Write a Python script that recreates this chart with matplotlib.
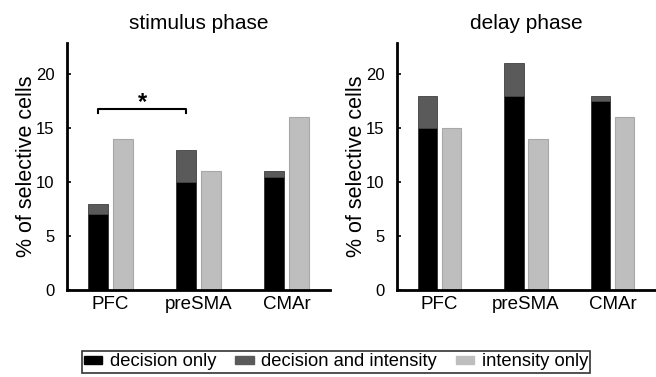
import numpy as np
import matplotlib.pyplot as plt
from matplotlib.patches import Patch

plt.rcParams['font.family'] = ['Liberation Sans', 'DejaVu Sans']

# Percent of selective cells per area, split by selectivity type
areas = ['PFC', 'preSMA', 'CMAr']
stim_decision_only = [7, 10, 10.5]
stim_decision_and_intensity = [1, 3, 0.5]
stim_intensity_only = [14, 11, 16]
delay_decision_only = [15, 18, 17.5]
delay_decision_and_intensity = [3, 3, 0.5]
delay_intensity_only = [15, 14, 16]

c_dec = '#000000'
c_both = '#5a5a5a'
c_int = '#bebebe'

fig = plt.figure(figsize=(6.56, 3.77), dpi=100)
ax1 = fig.add_axes([67 / 656, 1 - 290 / 377, 263 / 656, 247 / 377])
ax2 = fig.add_axes([397 / 656, 1 - 290 / 377, 258 / 656, 247 / 377])

x = np.arange(1, len(areas) + 1)
w = 0.225
off = 0.14


def draw_panel(ax, dec, both, inten, title):
    ax.bar(x - off, dec, w, color=c_dec, edgecolor='#303030', linewidth=0.6)
    ax.bar(x - off, both, w, bottom=dec, color=c_both, edgecolor='#404040', linewidth=0.6)
    ax.bar(x + off, inten, w, color=c_int, edgecolor='#a8a8a8', linewidth=0.8)
    ax.set_xlim(0.51, 3.49)
    ax.set_ylim(0, 22.9)
    ax.set_yticks([0, 5, 10, 15, 20])
    ax.set_xticks(x)
    ax.set_xticklabels(areas)
    ax.tick_params(axis='y', direction='in', length=3, width=1.2, labelsize=12, pad=9)
    ax.tick_params(axis='x', length=0, labelsize=13.5, pad=4.5)
    for s in ['top', 'right']:
        ax.spines[s].set_visible(False)
    for s in ['left', 'bottom']:
        ax.spines[s].set_linewidth(2)
    ax.set_ylabel('% of selective cells', fontsize=15.5, labelpad=-1)
    ax.set_title(title, fontsize=15, pad=10)


draw_panel(ax1, stim_decision_only, stim_decision_and_intensity, stim_intensity_only, 'stimulus phase')
draw_panel(ax2, delay_decision_only, delay_decision_and_intensity, delay_intensity_only, 'delay phase')

# significance bracket between PFC and preSMA
bx = [x[0] - off, x[1] - off]
ax1.plot([bx[0], bx[0], bx[1], bx[1]], [16.4, 16.75, 16.75, 16.4], color='black', lw=1.5)
ax1.text(np.mean(bx), 16.35, '*', ha='center', va='bottom', fontsize=17, fontweight='bold')

handles = [Patch(facecolor=c_dec, edgecolor=c_dec),
           Patch(facecolor=c_both, edgecolor=c_both),
           Patch(facecolor=c_int, edgecolor=c_int)]
labels = ['decision only', 'decision and intensity', 'intensity only']
leg = fig.legend(handles, labels, loc='center', bbox_to_anchor=(336 / 656, 1 - 362 / 377),
                 ncol=3, fontsize=13.2, frameon=True, fancybox=False, edgecolor='black',
                 handlelength=1.0, handleheight=0.3, handletextpad=0.4, columnspacing=1.05,
                 borderpad=0.12, borderaxespad=0)
leg.get_frame().set_linewidth(1.2)

fig.savefig('out.png', dpi=100)
